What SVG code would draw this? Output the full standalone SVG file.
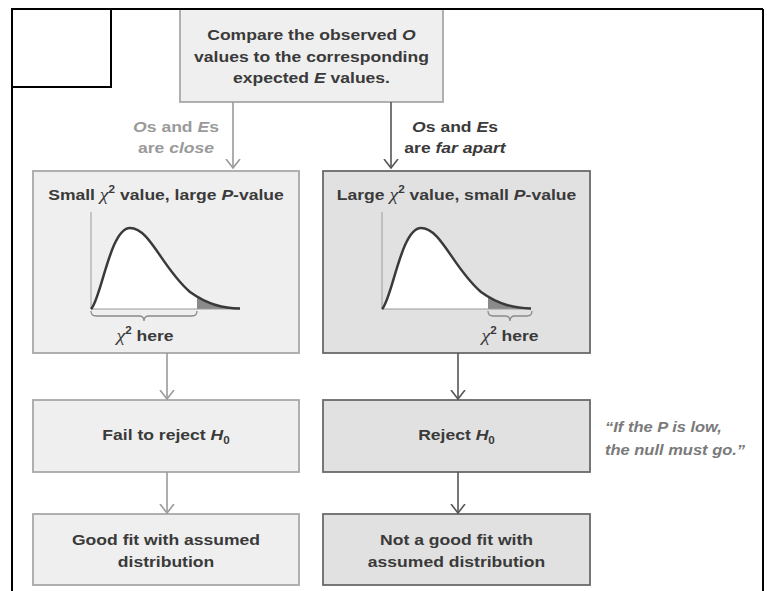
<svg xmlns="http://www.w3.org/2000/svg" xmlns:xlink="http://www.w3.org/1999/xlink" width="767" height="591" viewBox="0 0 767 591">
<style>
.t{font-family:"Liberation Sans",Arial,sans-serif;font-size:15px;font-weight:bold;fill:#3a3a3a;text-anchor:middle}
.lt{fill:#9a9a9a}
.q{font-family:"Liberation Sans",Arial,sans-serif;font-size:15px;font-weight:bold;font-style:italic;fill:#7a7a7a}
.i{font-style:italic}
.chi{font-family:"Liberation Serif","Times New Roman",serif;font-style:italic;font-weight:normal;font-size:17px}
.sup{font-size:10px}
.boxL{fill:#efefef;stroke:#a8a8a8;stroke-width:1.8}
.boxD{fill:#e1e1e1;stroke:#6a6a6a;stroke-width:1.8}
.arrL{stroke:#9a9a9a;stroke-width:1.6;fill:none}
.arrD{stroke:#555;stroke-width:1.6;fill:none}
.brace{fill:none;stroke:#8a8a8a;stroke-width:1.3}
.frame{fill:none;stroke:#000;stroke-width:2}
</style>
<defs>
<marker id="mL" viewBox="0 0 10 16" refX="9" refY="8" markerWidth="10" markerHeight="16" markerUnits="userSpaceOnUse" orient="auto">
<path d="M0,1 L9,8 L0,15" fill="none" stroke="#9a9a9a" stroke-width="1.6"/>
</marker>
<marker id="mD" viewBox="0 0 10 16" refX="9" refY="8" markerWidth="10" markerHeight="16" markerUnits="userSpaceOnUse" orient="auto">
<path d="M0,1 L9,8 L0,15" fill="none" stroke="#555" stroke-width="1.6"/>
</marker>
<clipPath id="tail" clipPathUnits="userSpaceOnUse"><rect x="197" y="200" width="50" height="115"/></clipPath>
<g id="plot">
<path d="M91,309 C101,300 110,228 130,228 C150,228 162,268 190,292 C208,305 224,308 240,308.5 L240,309 Z" fill="#fff"/>
<path d="M91,309 C101,300 110,228 130,228 C150,228 162,268 190,292 C208,305 224,308 240,308.5 L240,309 Z" fill="#8a8a8a" clip-path="url(#tail)"/>
<line x1="91" y1="212" x2="91" y2="309" stroke="#9a9a9a" stroke-width="1"/>
<line x1="91" y1="309" x2="240" y2="309" stroke="#9a9a9a" stroke-width="1"/>
<path d="M91,309 C101,300 110,228 130,228 C150,228 162,268 190,292 C208,305 224,308 240,308.5" fill="none" stroke="#3a3a3a" stroke-width="2.5"/>
</g>
</defs>
<rect width="767" height="591" fill="#fff"/>

<g id="n-compare">
<rect x="180" y="9" width="263" height="93" class="boxL"/>
<text class="t" transform="translate(311.5 39.5) scale(1.17 1)">Compare the observed <tspan class="i">O</tspan></text>
<text class="t" transform="translate(311.5 61.5) scale(1.17 1)">values to the corresponding</text>
<text class="t" transform="translate(311.5 83) scale(1.17 1)">expected <tspan class="i">E</tspan> values.</text>
</g>

<g id="frame">
<line x1="12" y1="9" x2="763" y2="9" class="frame"/>
<line x1="12" y1="9" x2="12" y2="591" class="frame"/>
<line x1="763" y1="9" x2="763" y2="591" class="frame"/>
<rect x="12" y="9" width="99" height="78" class="frame" stroke-width="1.6"/>
</g>

<g id="n-small">
<rect x="33" y="171" width="266" height="182" class="boxL"/>
<text class="t" transform="translate(166 200) scale(1.17 1)">Small <tspan class="chi">χ</tspan><tspan class="sup" dy="-7">2</tspan><tspan dy="7"> value, large </tspan><tspan class="i">P</tspan>-value</text>
<use xlink:href="#plot" href="#plot"/>
<path class="brace" d="M91,311 Q91,316 96,316 L139,316 Q144,316 144,321 Q144,316 149,316 L192,316 Q197,316 197,311"/>
<text class="t" transform="translate(145 341) scale(1.17 1)"><tspan class="chi">χ</tspan><tspan class="sup" dy="-7">2</tspan><tspan dy="7"> here</tspan></text>
</g>

<g id="n-large">
<rect x="323" y="171" width="267" height="182" class="boxD"/>
<text class="t" transform="translate(456.5 200) scale(1.17 1)">Large <tspan class="chi">χ</tspan><tspan class="sup" dy="-7">2</tspan><tspan dy="7"> value, small </tspan><tspan class="i">P</tspan>-value</text>
<use xlink:href="#plot" href="#plot" transform="translate(291 0)"/>
<path class="brace" d="M488,311 Q488,316 493,316 L505,316 Q510,316 510,321 Q510,316 515,316 L527,316 Q532,316 532,311"/>
<text class="t" transform="translate(510 341) scale(1.17 1)"><tspan class="chi">χ</tspan><tspan class="sup" dy="-7">2</tspan><tspan dy="7"> here</tspan></text>
</g>

<g id="n-fail">
<rect x="33" y="400" width="266" height="72" class="boxL"/>
<text class="t" transform="translate(166 440) scale(1.17 1)">Fail to reject <tspan class="i">H</tspan><tspan class="sup" dy="4">0</tspan></text>
</g>

<g id="n-reject">
<rect x="323" y="400" width="267" height="72" class="boxD"/>
<text class="t" transform="translate(456.5 440) scale(1.17 1)">Reject <tspan class="i">H</tspan><tspan class="sup" dy="4">0</tspan></text>
</g>

<g id="n-good">
<rect x="33" y="514" width="266" height="71" class="boxL"/>
<text class="t" transform="translate(166 544.5) scale(1.17 1)">Good fit with assumed</text>
<text class="t" transform="translate(166 566.5) scale(1.17 1)">distribution</text>
</g>

<g id="n-notgood">
<rect x="323" y="514" width="267" height="71" class="boxD"/>
<text class="t" transform="translate(456.5 544.5) scale(1.17 1)">Not a good fit with</text>
<text class="t" transform="translate(456.5 566.5) scale(1.17 1)">assumed distribution</text>
</g>

<g id="connectors">
<line x1="233" y1="102" x2="233" y2="168" class="arrL" marker-end="url(#mL)"/>
<line x1="391" y1="102" x2="391" y2="168" class="arrD" marker-end="url(#mD)"/>
<line x1="167" y1="353" x2="167" y2="399" class="arrL" marker-end="url(#mL)"/>
<line x1="458" y1="353" x2="458" y2="399" class="arrD" marker-end="url(#mD)"/>
<line x1="167" y1="472" x2="167" y2="513" class="arrL" marker-end="url(#mL)"/>
<line x1="458" y1="472" x2="458" y2="513" class="arrD" marker-end="url(#mD)"/>
<text class="t lt" transform="translate(176 131.5) scale(1.17 1)"><tspan class="i">O</tspan>s and <tspan class="i">E</tspan>s</text>
<text class="t lt" transform="translate(176 153) scale(1.17 1)">are <tspan class="i">close</tspan></text>
<text class="t" transform="translate(455 131.5) scale(1.17 1)"><tspan class="i">O</tspan>s and <tspan class="i">E</tspan>s</text>
<text class="t" transform="translate(455 153) scale(1.17 1)">are <tspan class="i">far apart</tspan></text>
</g>

<g id="note">
<text class="q" transform="translate(605 432) scale(1.1 1)">“If the P is low,</text>
<text class="q" transform="translate(605 455) scale(1.1 1)">the null must go.”</text>
</g>
</svg>
